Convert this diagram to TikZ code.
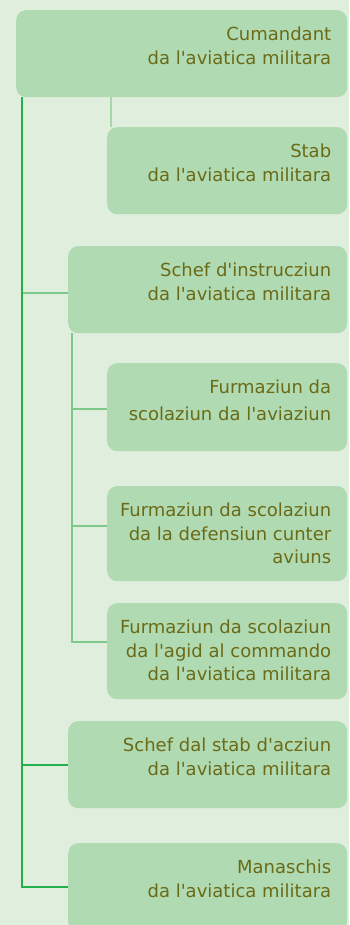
\documentclass[tikz,border=0pt]{standalone}
\usepackage{fontspec}
\newfontfamily\lblfont{DejaVu Sans}
\definecolor{bgc}{HTML}{DFEEDD}
\definecolor{boxc}{HTML}{B0DAB2}
\definecolor{txtc}{HTML}{6B6A16}
\definecolor{mainc}{HTML}{22B04C}
\definecolor{subc}{HTML}{7CC98A}
\definecolor{stabc}{HTML}{A6D6AC}
\begin{document}
\begin{tikzpicture}[x=1pt,y=-1pt,
  box/.style={fill=boxc, draw=none, rounded corners=10pt, inner sep=0pt, anchor=north west},
  lbl/.style={anchor=north east, align=right, inner sep=0pt, text=txtc, font=\lblfont\fontsize{18}{23.5}\selectfont},
  mainline/.style={draw=mainc, line width=2.4pt},
  subline/.style={draw=subc, line width=2pt},
  stabline/.style={draw=stabc, line width=2.5pt}]
\fill[bgc] (0,0) rectangle (349,925);
\useasboundingbox (0,0) rectangle (349,925);
% boxes
\node[box, minimum width=331pt, minimum height=87pt] (b1) at (16,10) {};
\node[box, minimum width=240pt, minimum height=87pt] (b2) at (107,127) {};
\node[box, minimum width=279pt, minimum height=87pt] (b3) at (68,246) {};
\node[box, minimum width=240pt, minimum height=88pt] (b4) at (107,363) {};
\node[box, minimum width=240pt, minimum height=95pt] (b5) at (107,486) {};
\node[box, minimum width=240pt, minimum height=96pt] (b6) at (107,603) {};
\node[box, minimum width=279pt, minimum height=87pt] (b7) at (68,721) {};
\node[box, minimum width=279pt, minimum height=88pt] (b8) at (68,843) {};
% labels
\node[lbl] (t1) at ([xshift=-16pt,yshift=-14pt]b1.north east) {\strut Cumandant\\da l'aviatica militara};
\node[lbl] (t2) at ([xshift=-16pt,yshift=-14pt]b2.north east) {\strut Stab\\da l'aviatica militara};
\node[lbl] (t3) at ([xshift=-16pt,yshift=-14pt]b3.north east) {\strut Schef d'instrucziun\\da l'aviatica militara};
\node[lbl] (t4) at ([xshift=-16pt,yshift=-14pt]b4.north east) {\strut Furmaziun da\\[3pt]scolaziun da l'aviaziun};
\node[lbl] (t5) at ([xshift=-16pt,yshift=-14pt]b5.north east) {\strut Furmaziun da scolaziun\\da la defensiun cunter\\aviuns};
\node[lbl] (t6) at ([xshift=-16pt,yshift=-14pt]b6.north east) {\strut Furmaziun da scolaziun\\da l'agid al commando\\da l'aviatica militara};
\node[lbl] (t7) at ([xshift=-16pt,yshift=-14pt]b7.north east) {\strut Schef dal stab d'acziun\\da l'aviatica militara};
\node[lbl] (t8) at ([xshift=-16pt,yshift=-14pt]b8.north east) {\strut Manaschis\\da l'aviatica militara};
% connector coordinates
\coordinate (mx) at ([xshift=6pt]b1.south west);
\coordinate (sx) at ([xshift=4pt]b3.south west);
\coordinate (c3) at ([yshift=-47pt]b3.north west);
\coordinate (c4) at ([yshift=-46pt]b4.north west);
\coordinate (c5) at ([yshift=-40pt]b5.north west);
\coordinate (c6) at ([yshift=-39pt]b6.north west);
% connectors
\draw[stabline] ([xshift=4pt]b2.north west |- b1.south) -- ([xshift=4pt]b2.north west);
\draw[subline] (c3 -| mx) -- (c3);
\draw[subline] (sx) |- (c6);
\draw[subline] (c4 -| sx) -- (c4);
\draw[subline] (c5 -| sx) -- (c5);
\draw[mainline] (mx) |- (b8.west);
\draw[mainline] (b7.west -| mx) -- (b7.west);
\end{tikzpicture}
\end{document}
